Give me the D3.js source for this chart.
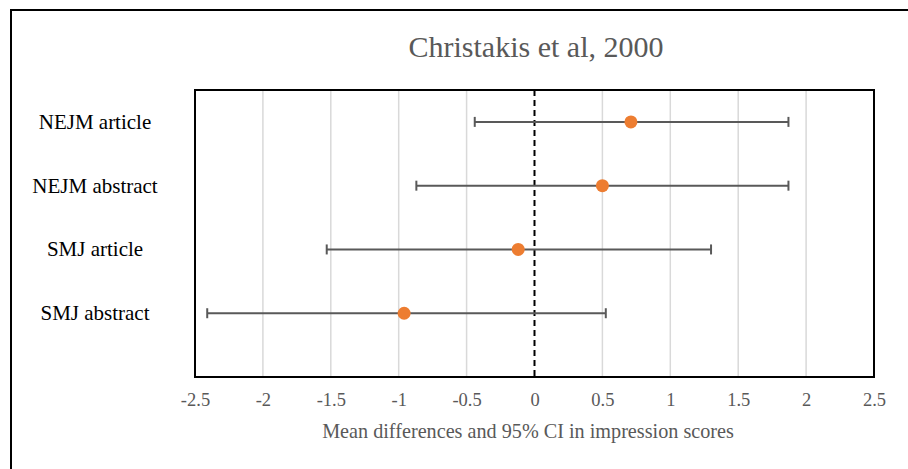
<html>
<head>
<meta charset="utf-8">
<script src="https://d3js.org/d3.v7.min.js"></script>
<style>
  body { margin: 0; background: #fff; }
  text { font-family: "Liberation Serif", "Times New Roman", serif; }
</style>
</head>
<body>
<div id="chart"></div>
<script>
// data
var categories = ['NEJM article', 'NEJM abstract', 'SMJ article', 'SMJ abstract'];
var ypos = [4, 3, 2, 1];
var means = [0.71, 0.50, -0.12, -0.96];
var lower = [-0.44, -0.87, -1.53, -2.41];
var upper = [1.87, 1.87, 1.30, 0.525];
var xticks = [-2.5, -2, -1.5, -1, -0.5, 0, 0.5, 1, 1.5, 2, 2.5];

var width = 908, height = 469;
var plotLeft = 195, plotRight = 874, plotTop = 90, plotBottom = 377;

var svg = d3.select('#chart').append('svg')
    .attr('width', width).attr('height', height);

// outer frame (runs off the right and bottom edge)
svg.append('rect')
    .attr('x', 11).attr('y', 10)
    .attr('width', 960).attr('height', 520)
    .attr('fill', 'none').attr('stroke', '#000').attr('stroke-width', 2);

var x = d3.scaleLinear().domain([-2.5, 2.5]).range([plotLeft, plotRight]);
var y = d3.scaleLinear().domain([0, 4.5]).range([plotBottom, plotTop]);

svg.append('text')
    .attr('x', 536).attr('y', 57)
    .attr('text-anchor', 'middle')
    .attr('font-size', 30)
    .attr('fill', '#595959')
    .text('Christakis et al, 2000');

// gridlines
svg.append('g').selectAll('line')
    .data(xticks.filter(function (d) { return d !== 0 && Math.abs(d) !== 2.5; }))
    .enter().append('line')
    .attr('x1', function (d) { return x(d); }).attr('x2', function (d) { return x(d); })
    .attr('y1', plotTop).attr('y2', plotBottom)
    .attr('stroke', '#d9d9d9').attr('stroke-width', 1.5);

// zero line
svg.append('line')
    .attr('x1', x(0)).attr('x2', x(0))
    .attr('y1', plotTop).attr('y2', plotBottom)
    .attr('stroke', '#000').attr('stroke-width', 2)
    .attr('stroke-dasharray', '6,4');

// x axis labels
var xAxis = d3.axisBottom(x).tickValues(xticks).tickSize(0).tickPadding(16)
    .tickFormat(function (d) { return String(d); });
var ax = svg.append('g').attr('transform', 'translate(0,' + plotBottom + ')').call(xAxis);
ax.select('.domain').remove();
ax.selectAll('text')
    .attr('font-family', '"Liberation Serif", serif')
    .attr('font-size', 18.5)
    .attr('fill', '#595959');

svg.append('text')
    .attr('x', 528).attr('y', 438)
    .attr('text-anchor', 'middle')
    .attr('font-size', 20.2)
    .attr('fill', '#595959')
    .text('Mean differences and 95% CI in impression scores');

// category labels
svg.append('g').selectAll('text')
    .data(categories)
    .enter().append('text')
    .attr('x', 95)
    .attr('y', function (d, i) { return y(ypos[i]); })
    .attr('dy', '0.33em')
    .attr('text-anchor', 'middle')
    .attr('font-size', 21)
    .attr('fill', '#000')
    .text(function (d) { return d; });

// error bars
var bars = svg.append('g').selectAll('g')
    .data(categories)
    .enter().append('g')
    .attr('stroke', '#595959').attr('stroke-width', 2);

bars.append('line')
    .attr('x1', function (d, i) { return x(lower[i]); })
    .attr('x2', function (d, i) { return x(upper[i]); })
    .attr('y1', function (d, i) { return y(ypos[i]); })
    .attr('y2', function (d, i) { return y(ypos[i]); });
bars.append('line')
    .attr('x1', function (d, i) { return x(lower[i]); })
    .attr('x2', function (d, i) { return x(lower[i]); })
    .attr('y1', function (d, i) { return y(ypos[i]) - 5; })
    .attr('y2', function (d, i) { return y(ypos[i]) + 5; });
bars.append('line')
    .attr('x1', function (d, i) { return x(upper[i]); })
    .attr('x2', function (d, i) { return x(upper[i]); })
    .attr('y1', function (d, i) { return y(ypos[i]) - 5; })
    .attr('y2', function (d, i) { return y(ypos[i]) + 5; });

// points
svg.append('g').selectAll('circle')
    .data(means)
    .enter().append('circle')
    .attr('cx', function (d) { return x(d); })
    .attr('cy', function (d, i) { return y(ypos[i]); })
    .attr('r', 6.5)
    .attr('fill', '#ED7D31');

// plot frame
svg.append('rect')
    .attr('x', plotLeft).attr('y', plotTop)
    .attr('width', plotRight - plotLeft).attr('height', plotBottom - plotTop)
    .attr('fill', 'none').attr('stroke', '#000').attr('stroke-width', 2);
</script>
</body>
</html>
